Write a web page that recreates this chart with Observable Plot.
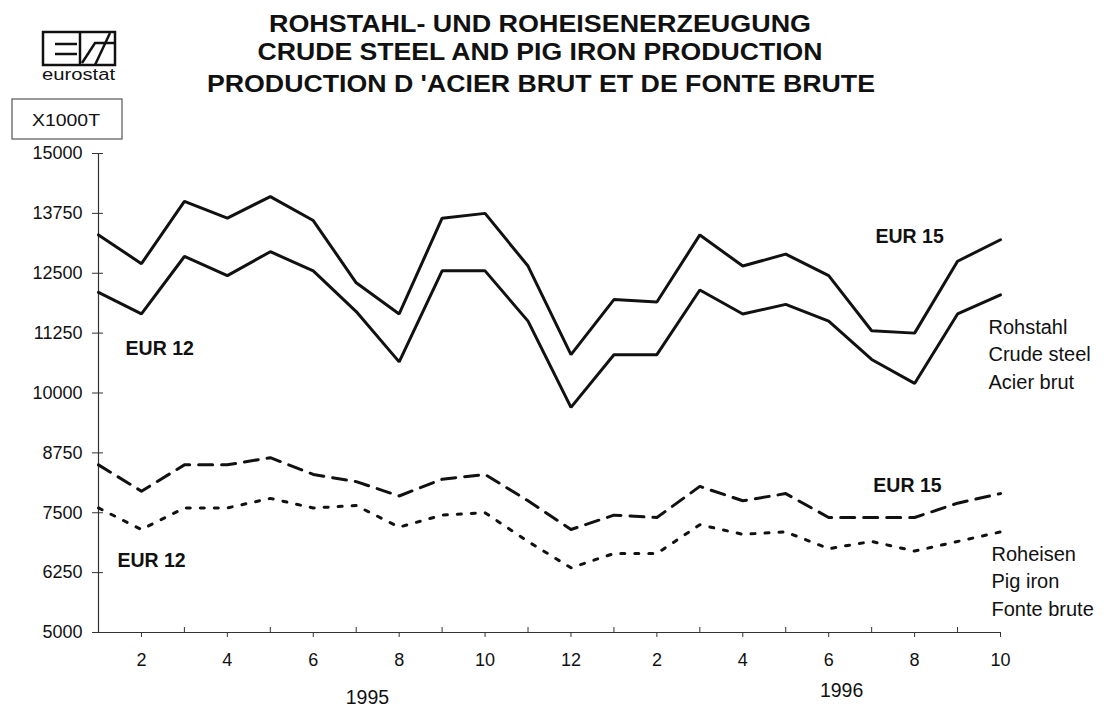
<!DOCTYPE html>
<html>
<head>
<meta charset="utf-8">
<script src="https://cdn.jsdelivr.net/npm/d3@7"></script>
<script src="https://cdn.jsdelivr.net/npm/@observablehq/plot@0.6"></script>
<style>
  html, body { margin: 0; padding: 0; background: #ffffff; }
  #wrap { position: relative; width: 1104px; height: 708px; overflow: hidden; }
  #chart { position: absolute; left: 0; top: 0; }
  #overlay { position: absolute; left: 0; top: 0; pointer-events: none; }
  text { font-family: "Liberation Sans", Arial, sans-serif; }
</style>
</head>
<body>
<div id="wrap">
  <div id="chart"></div>
  <svg id="overlay" width="1104" height="708">
    <text x="540" y="32" text-anchor="middle" font-size="23.5" font-weight="bold" fill="#111" textLength="542" lengthAdjust="spacingAndGlyphs">ROHSTAHL- UND ROHEISENERZEUGUNG</text>
    <text x="540" y="60" text-anchor="middle" font-size="23.5" font-weight="bold" fill="#111" textLength="565" lengthAdjust="spacingAndGlyphs">CRUDE STEEL AND PIG IRON PRODUCTION</text>
    <text x="541" y="92" text-anchor="middle" font-size="23.5" font-weight="bold" fill="#111" textLength="668" lengthAdjust="spacingAndGlyphs">PRODUCTION D 'ACIER BRUT ET DE FONTE BRUTE</text>
    <g stroke="#111" fill="none" stroke-width="2.5">
      <rect x="43" y="32" width="72" height="33"/>
      <line x1="55" y1="44" x2="77" y2="44"/>
      <line x1="55" y1="54" x2="77" y2="54"/>
      <line x1="80" y1="32" x2="80" y2="65"/>
      <path d="M82,63 L95,43 L115,43"/>
      <path d="M95,65 L110,33"/>
    </g>
    <text x="42" y="80" font-size="16" fill="#111" textLength="73" lengthAdjust="spacingAndGlyphs">eurostat</text>
    <rect x="12" y="99" width="110" height="40" fill="none" stroke="#555" stroke-width="1.2"/>
    <text x="66" y="126" text-anchor="middle" font-size="17" fill="#111" textLength="68" lengthAdjust="spacingAndGlyphs">X1000T</text>
  </svg>
</div>
<script>
// Month tick labels (Jan 1995 .. Oct 1996)
const months = [1,2,3,4,5,6,7,8,9,10,11,12,1,2,3,4,5,6,7,8,9,10];
// Crude steel (x1000 t)
const steelEur15 = [13300,12700,14000,13650,14100,13600,12300,11650,13650,13750,12650,10800,11950,11900,13300,12650,12900,12450,11300,11250,12750,13200];
const steelEur12 = [12100,11650,12850,12450,12950,12550,11700,10650,12550,12550,11500,9700,10800,10800,12150,11650,11850,11500,10700,10200,11650,12050];
// Pig iron (x1000 t)
const pigEur15 = [8500,7950,8500,8500,8650,8300,8150,7850,8200,8300,7750,7150,7450,7400,8050,7750,7900,7400,7400,7400,7700,7900];
const pigEur12 = [7600,7150,7600,7600,7800,7600,7650,7200,7450,7500,6900,6350,6650,6650,7250,7050,7100,6750,6900,6700,6900,7100];
// Y tick values
const yTicks = [5000,6250,7500,8750,10000,11250,12500,13750,15000];
// Annotations
const seriesLabels = [
  {label: "EUR 12", x: 0.63, y: 10929},
  {label: "EUR 15", x: 18.09, y: 13267},
  {label: "EUR 15", x: 18.04, y: 8069},
  {label: "EUR 12", x: 0.44, y: 6503}
];
const legendLabels = [
  {label: "Rohstahl\nCrude steel\nAcier brut", x: 20.72, y: 10846},
  {label: "Roheisen\nPig iron\nFonte brute", x: 20.79, y: 6106}
];
const yearLabels = [
  {label: "1995", x: 6.26, dy: 71},
  {label: "1996", x: 17.3, dy: 64}
];

const idx = months.map((_, i) => i);
const toRows = arr => arr.map((v, i) => ({i, v}));
const oddTicks = idx.filter(i => i % 2 === 1);
const evenTicks = idx.filter(i => i % 2 === 0 && i > 0);

const font = '"Liberation Sans", Arial, sans-serif';

const chart = Plot.plot({
  width: 1104,
  height: 708,
  marginLeft: 98,
  marginRight: 104,
  marginTop: 153,
  marginBottom: 76,
  style: {fontFamily: font, fontSize: "18px", color: "#111", background: "transparent"},
  x: {domain: [0, 21]},
  y: {domain: [5000, 15000]},
  marks: [
    Plot.axisY({ticks: yTicks, tickSize: 6, tickPadding: 10, tickFormat: d => String(d), fontSize: 18, stroke: "#333", label: null}),
    Plot.axisY({ticks: yTicks, tickSize: 5, dx: 5, text: null, stroke: "#333", label: null}),
    Plot.axisX({ticks: oddTicks, tickSize: 5, tickPadding: 16, tickFormat: i => months[i], fontSize: 18, stroke: "#333", label: null}),
    Plot.axisX({ticks: evenTicks, tickSize: 5, dy: -5, text: null, stroke: "#333", label: null}),
    Plot.ruleX([0], {stroke: "#333", strokeWidth: 1.2}),
    Plot.ruleY([5000], {stroke: "#333", strokeWidth: 1.2}),
    Plot.line(toRows(steelEur15), {x: "i", y: "v", stroke: "#111", strokeWidth: 3, strokeLinejoin: "miter"}),
    Plot.line(toRows(steelEur12), {x: "i", y: "v", stroke: "#111", strokeWidth: 3, strokeLinejoin: "miter"}),
    Plot.line(toRows(pigEur15), {x: "i", y: "v", stroke: "#111", strokeWidth: 3, strokeDasharray: "14,9"}),
    Plot.line(toRows(pigEur12), {x: "i", y: "v", stroke: "#111", strokeWidth: 3, strokeDasharray: "4,10"}),
    Plot.text(seriesLabels, {x: "x", y: "y", text: "label", textAnchor: "start", fontWeight: "bold", fontSize: 19.5, fill: "#111"}),
    Plot.text(legendLabels, {x: "x", y: "y", text: "label", textAnchor: "start", fontSize: 20, lineHeight: 1.38, fill: "#111"}),
    ...yearLabels.map(d => Plot.text([d], {x: "x", text: "label", frameAnchor: "bottom", dy: d.dy, fontSize: 19.5, fill: "#111", letterSpacing: 2.5}))
  ]
});
document.getElementById("chart").appendChild(chart);
</script>
</body>
</html>
